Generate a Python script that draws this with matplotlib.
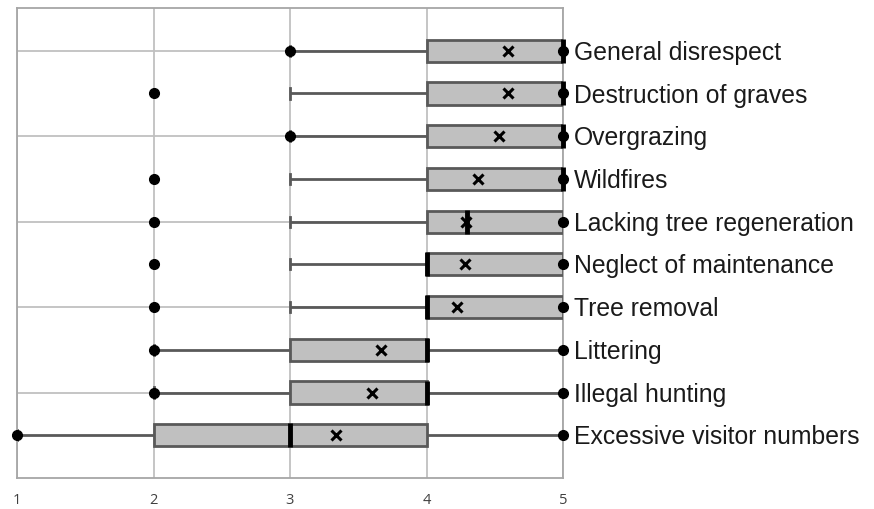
import matplotlib
matplotlib.use("Agg")
import matplotlib.pyplot as plt
from matplotlib.patches import Rectangle

categories = ["General disrespect", "Destruction of graves", "Overgrazing", "Wildfires",
              "Lacking tree regeneration", "Neglect of maintenance", "Tree removal",
              "Littering", "Illegal hunting", "Excessive visitor numbers"]
whisker_low = [3, 3, 3, 3, 3, 3, 3, 2, 2, 1]
q1 = [4, 4, 4, 4, 4, 4, 4, 3, 3, 2]
median = [5, 5, 5, 5, 4.3, 4, 4, 4, 4, 3]
q3 = [5, 5, 5, 5, 5, 5, 5, 4, 4, 4]
whisker_high = [5, 5, 5, 5, 5, 5, 5, 5, 5, 5]
means = [4.60, 4.60, 4.53, 4.38, 4.29, 4.28, 4.22, 3.67, 3.60, 3.34]
points_low = [3, 2, 3, 2, 2, 2, 2, 2, 2, 1]
points_high = [5, 5, 5, 5, 5, 5, 5, 5, 5, 5]
x_ticks = [1, 2, 3, 4, 5]

fig = plt.figure(figsize=(8.74, 5.09), dpi=100)
ax = fig.add_axes([17/874, 31/509, (563-17)/874, (478-8)/509])
ax.set_xlim(1, 5)
ax.set_ylim(0, 11)

grid_c = "#c0c0c0"
for x in x_ticks:
    ax.axvline(x, color=grid_c, lw=1.3, zorder=0)
for y in [2, 4, 6, 8, 10]:
    ax.axhline(y, color=grid_c, lw=1.3, zorder=0)
for s in ax.spines.values():
    s.set_color("#a6a6a6")
    s.set_linewidth(1.3)

edge = "#595959"
n = len(categories)
h = 0.52
for i, cat in enumerate(categories):
    y = n - i
    # whiskers
    if whisker_low[i] < q1[i]:
        ax.plot([whisker_low[i], q1[i]], [y, y], color=edge, lw=2, zorder=2, solid_capstyle="butt")
        ax.plot([whisker_low[i], whisker_low[i]], [y - 0.12, y + 0.12], color=edge, lw=2, zorder=2)
    if whisker_high[i] > q3[i]:
        ax.plot([q3[i], whisker_high[i]], [y, y], color=edge, lw=2, zorder=2, solid_capstyle="butt")
    # box
    ax.add_patch(Rectangle((q1[i], y - h/2), q3[i] - q1[i], h, facecolor="#c0c0c0",
                           edgecolor=edge, lw=2, zorder=3))
    # median
    ax.plot([median[i], median[i]], [y - h/2 - 0.02, y + h/2 + 0.02], color="black", lw=3.5,
            zorder=4, solid_capstyle="butt", clip_on=False)
    # mean
    ax.plot(means[i], y, marker="x", color="black", ms=7.5, mew=2.2, zorder=5)
    # points
    ax.plot([points_low[i], points_high[i]], [y, y], "o", color="black", ms=7, zorder=6,
            linestyle="none", clip_on=False)
    ax.annotate(cat, (5, y), xytext=(8, -1.5), textcoords="offset points", va="center", ha="left",
                fontsize=17.8, color="#1a1a1a", family="Liberation Sans", annotation_clip=False)

ax.set_xticks(x_ticks)
ax.set_xticklabels([str(x) for x in x_ticks], fontsize=10.5, color="#404040", family="Open Sans")
ax.tick_params(axis="x", length=0, pad=11)
ax.set_yticks([])

fig.savefig("out.png", dpi=100)
